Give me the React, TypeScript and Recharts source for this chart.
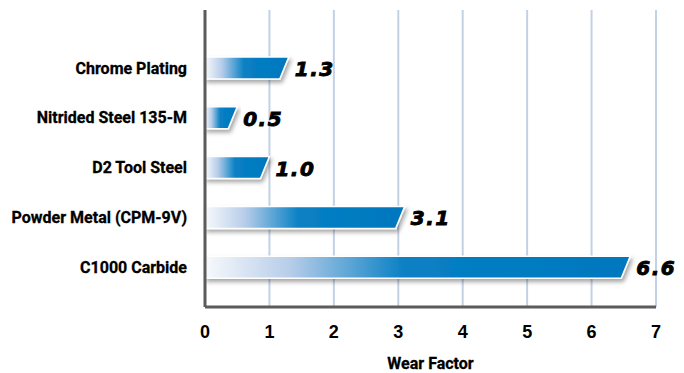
import React from 'react';
import { BarChart, Bar, XAxis, YAxis, CartesianGrid, LabelList, Label } from 'recharts';

const materials = ['Chrome Plating', 'Nitrided Steel 135-M', 'D2 Tool Steel', 'Powder Metal (CPM-9V)', 'C1000 Carbide'];
const wearFactor = [1.3, 0.5, 1.0, 3.1, 6.6];
const xTicks = [0, 1, 2, 3, 4, 5, 6, 7];

const data = materials.map((name, i) => ({ name, value: wearFactor[i] }));

const labelFont = '"Liberation Sans Narrow", "Roboto", Arial, sans-serif';

// bar with a slanted right end, light-to-blue fade and drop shadow
const SlantBar = (props: any) => {
  const { x, y, width, height } = props;
  const s = 9;
  const d = `M${x},${y} H${x + width} L${x + width - s},${y + height} H${x} Z`;
  return (
    <g filter="url(#barShadow)">
      <path d={d} fill="url(#barFill)" stroke="#ffffff" strokeWidth={1.5} />
    </g>
  );
};

const ValueLabel = (props: any) => {
  const { x, y, width, height, value } = props;
  return (
    <text
      x={x + width + 6}
      y={y + height / 2 + 8}
      fontFamily='"DejaVu Sans", sans-serif'
      fontWeight="bold"
      fontStyle="italic"
      fontSize={20}
      letterSpacing={1.5}
      fill="#000"
      stroke="#000"
      strokeWidth={0.9}
    >
      {Number(value).toFixed(1)}
    </text>
  );
};

export default function App() {
  return (
    <div style={{ position: 'absolute', left: 0, top: 0, background: '#fff' }}>
      <BarChart
        width={684}
        height={373}
        data={data}
        layout="vertical"
        margin={{ top: 10, right: 28, bottom: 0, left: 0 }}
        barSize={22}
      >
        <defs>
          <linearGradient id="barFill" x1="0" y1="0" x2="1" y2="0">
            <stop offset="0%" stopColor="#f7f9fc" />
            <stop offset="20%" stopColor="#b7cde9" />
            <stop offset="47%" stopColor="#0880c4" />
            <stop offset="100%" stopColor="#0077be" />
          </linearGradient>
          <filter id="barShadow" x="-5%" y="-30%" width="115%" height="180%">
            <feDropShadow dx={2} dy={3} stdDeviation={2} floodColor="#000" floodOpacity={0.35} />
          </filter>
        </defs>
        <CartesianGrid horizontal={false} stroke="#c3d1e5" strokeWidth={2} />
        <XAxis
          type="number"
          domain={[0, 7]}
          ticks={xTicks}
          height={66}
          axisLine={{ stroke: '#5b5b5b', strokeWidth: 3 }}
          tickLine={false}
          tickMargin={12}
          tick={{ fill: '#000', fontSize: 18, fontWeight: 'bold', fontFamily: 'Arial, "Liberation Sans", sans-serif' }}
        >
          <Label
            value="Wear Factor"
            position="insideBottom"
            offset={4}
            style={{ fill: '#000', fontSize: 16, fontWeight: 'bold', fontFamily: labelFont, stroke: '#000', strokeWidth: 0.3 }}
          />
        </XAxis>
        <YAxis
          type="category"
          dataKey="name"
          width={205}
          padding={{ top: 33, bottom: 15 }}
          axisLine={{ stroke: '#5b5b5b', strokeWidth: 3 }}
          tickLine={false}
          tickMargin={12}
          tick={{ fill: '#000', fontSize: 16, fontWeight: 'bold', fontFamily: labelFont, stroke: '#000', strokeWidth: 0.3 }}
        />
        <Bar dataKey="value" shape={<SlantBar />} isAnimationActive={false}>
          <LabelList dataKey="value" content={<ValueLabel />} />
        </Bar>
      </BarChart>
    </div>
  );
}
